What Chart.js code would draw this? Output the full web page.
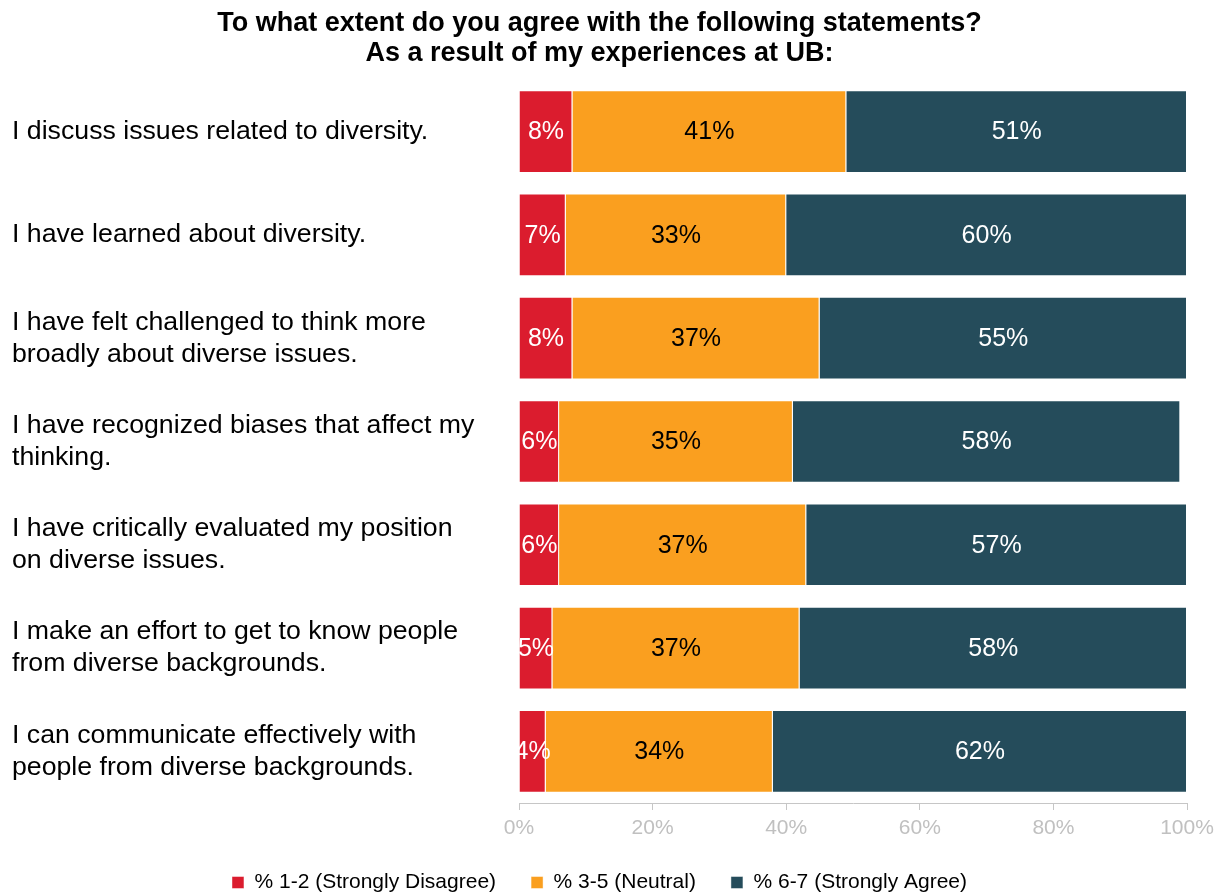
<!DOCTYPE html>
<html>
<head>
<meta charset="utf-8">
<script src="https://cdn.jsdelivr.net/npm/chart.js@4/dist/chart.umd.min.js"></script>
<style>
  html, body { margin: 0; padding: 0; background: #fff; }
  #wrap { width: 1224px; height: 892px; position: relative; }
</style>
</head>
<body>
<div id="wrap"><canvas id="chart"></canvas></div>
<script>
// statements, one bar per row
const statements = [
  ["I discuss issues related to diversity."],
  ["I have learned about diversity."],
  ["I have felt challenged to think more", "broadly about diverse issues."],
  ["I have recognized biases that affect my", "thinking."],
  ["I have critically evaluated my position", "on diverse issues."],
  ["I make an effort to get to know people", "from diverse backgrounds."],
  ["I can communicate effectively with", "people from diverse backgrounds."],
];
const disagree = [8, 7, 8, 6, 6, 5, 4];
const neutral  = [41, 33, 37, 35, 37, 37, 34];
const agree    = [51, 60, 55, 58, 57, 58, 62];
const xTicks   = [0, 20, 40, 60, 80, 100];

const FONT = "Arial, 'Liberation Sans', sans-serif";

// writes each segment's value in the middle of the bar
const barLabels = {
  id: "barLabels",
  afterDatasetsDraw(chart) {
    const ctx = chart.ctx;
    ctx.save();
    ctx.font = "25px " + FONT;
    ctx.textAlign = "center";
    ctx.textBaseline = "middle";
    chart.data.datasets.forEach((ds, i) => {
      chart.getDatasetMeta(i).data.forEach((bar, j) => {
        const { x, base, y } = bar.getProps(["x", "base", "y"], true);
        ctx.fillStyle = ds.labelColor;
        ctx.fillText(ds.data[j] + "%", (x + base) / 2, y + 1);
      });
    });
    ctx.restore();
  },
};

// keep the wide horizontal legend spacing without the extra height it brings
const compactLegend = {
  id: "compactLegend",
  afterInit(chart) {
    const lg = chart.legend;
    const fit = lg.fit;
    lg.fit = function () { fit.call(this); this.height = 55; };
  },
};

new Chart(document.getElementById("chart"), {
  type: "bar",
  data: {
    labels: statements,
    datasets: [
      { label: "% 1-2 (Strongly Disagree)", data: disagree, backgroundColor: "#db1c2e", labelColor: "#fff" },
      { label: "% 3-5 (Neutral)", data: neutral, backgroundColor: "#fa9f1f", labelColor: "#000" },
      { label: "% 6-7 (Strongly Agree)", data: agree, backgroundColor: "#254c5b", labelColor: "#fff" },
    ].map((d) => ({ ...d, borderColor: "rgba(255,255,255,0.45)", borderWidth: 1, barPercentage: 0.8, categoryPercentage: 1 })),
  },
  options: {
    indexAxis: "y",
    responsive: true,
    maintainAspectRatio: false,
    animation: false,
    layout: { padding: { left: 12, right: 37, top: 0, bottom: 0 } },
    plugins: {
      title: {
        display: true,
        text: ["To what extent do you agree with the following statements?", "As a result of my experiences at UB:"],
        color: "#000",
        font: { family: FONT, size: 27, weight: "bold", lineHeight: 1.11 },
        padding: { top: 9, bottom: 11 },
      },
      legend: {
        position: "bottom",
        labels: {
          color: "#000",
          font: { family: FONT, size: 21 },
          boxWidth: 12, boxHeight: 12,
          padding: 35,
        },
      },
      tooltip: { enabled: false },
    },
    scales: {
      x: {
        stacked: true,
        min: 0, max: 100,
        afterBuildTicks: (s) => { s.ticks = xTicks.map((v) => ({ value: v })); },
        afterFit: (s) => { s.height = 34; },
        grid: { drawOnChartArea: false, color: "#c6c6c6", tickLength: 7 },
        border: { color: "#c6c6c6" },
        ticks: { color: "#c0c0c0", font: { family: FONT, size: 21 }, padding: 6, callback: (v) => v + "%" },
      },
      y: {
        stacked: true,
        afterFit: (s) => { s.width = 507; },
        grid: { display: false },
        border: { display: false },
        ticks: { color: "#000", crossAlign: "far", padding: 0, font: { family: FONT, size: 26.7, lineHeight: 1.2 } },
      },
    },
  },
  plugins: [barLabels, compactLegend],
});
</script>
</body>
</html>
